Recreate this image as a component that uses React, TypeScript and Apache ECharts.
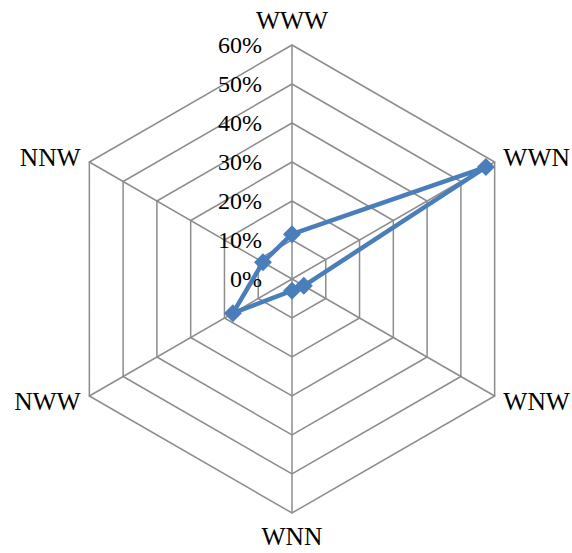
import React, { useEffect, useRef } from "react";
import * as echarts from "echarts";

// Axes listed counterclockwise from the top, the order the radar lays them out.
const categories = ["WWW", "NNW", "NWW", "WNN", "WNW", "WWN"];
// Share per direction, in percent.
const values = [11.5, 8.6, 17.5, 3.0, 3.5, 57.4];
const scaleMin = 0;
const scaleMax = 60;
const scaleSteps = 6;

const FONT = "'Liberation Serif', 'Times New Roman', serif";
const GRID = "#8c8c8c";
const BLUE = "#4a7ebb";

export default function App() {
  const ref = useRef<HTMLDivElement | null>(null);

  useEffect(() => {
    if (!ref.current) return;
    const chart = echarts.init(ref.current, undefined, { renderer: "svg" });
    chart.setOption({
      animation: false,
      backgroundColor: "#ffffff",
      radar: {
        center: [292, 279],
        radius: 234,
        startAngle: 90,
        shape: "polygon",
        splitNumber: scaleSteps,
        nameGap: 10,
        axisName: {
          color: "#000000",
          fontFamily: FONT,
          fontSize: 25.5,
        },
        indicator: categories.map((name, i) => ({
          name,
          min: scaleMin,
          max: scaleMax,
          // tick labels only along the first (top) axis
          axisLabel: i === 0 ? { show: true } : { show: false },
        })),
        axisLine: { lineStyle: { color: GRID, width: 1.5 } },
        splitLine: { lineStyle: { color: GRID, width: 1.5 } },
        splitArea: { show: false },
        axisTick: { show: false },
        axisLabel: {
          show: false,
          formatter: "{value}%",
          color: "#000000",
          fontFamily: FONT,
          fontSize: 24,
          margin: 30,
        },
      },
      series: [
        {
          type: "radar",
          symbol: "diamond",
          symbolSize: 18,
          itemStyle: { color: BLUE },
          lineStyle: { color: BLUE, width: 4.5 },
          data: [{ value: values, name: "share" }],
        },
      ],
    });
    return () => chart.dispose();
  }, []);

  return (
    <div
      ref={ref}
      style={{ position: "fixed", left: 0, top: 0, width: 572, height: 553 }}
    />
  );
}
